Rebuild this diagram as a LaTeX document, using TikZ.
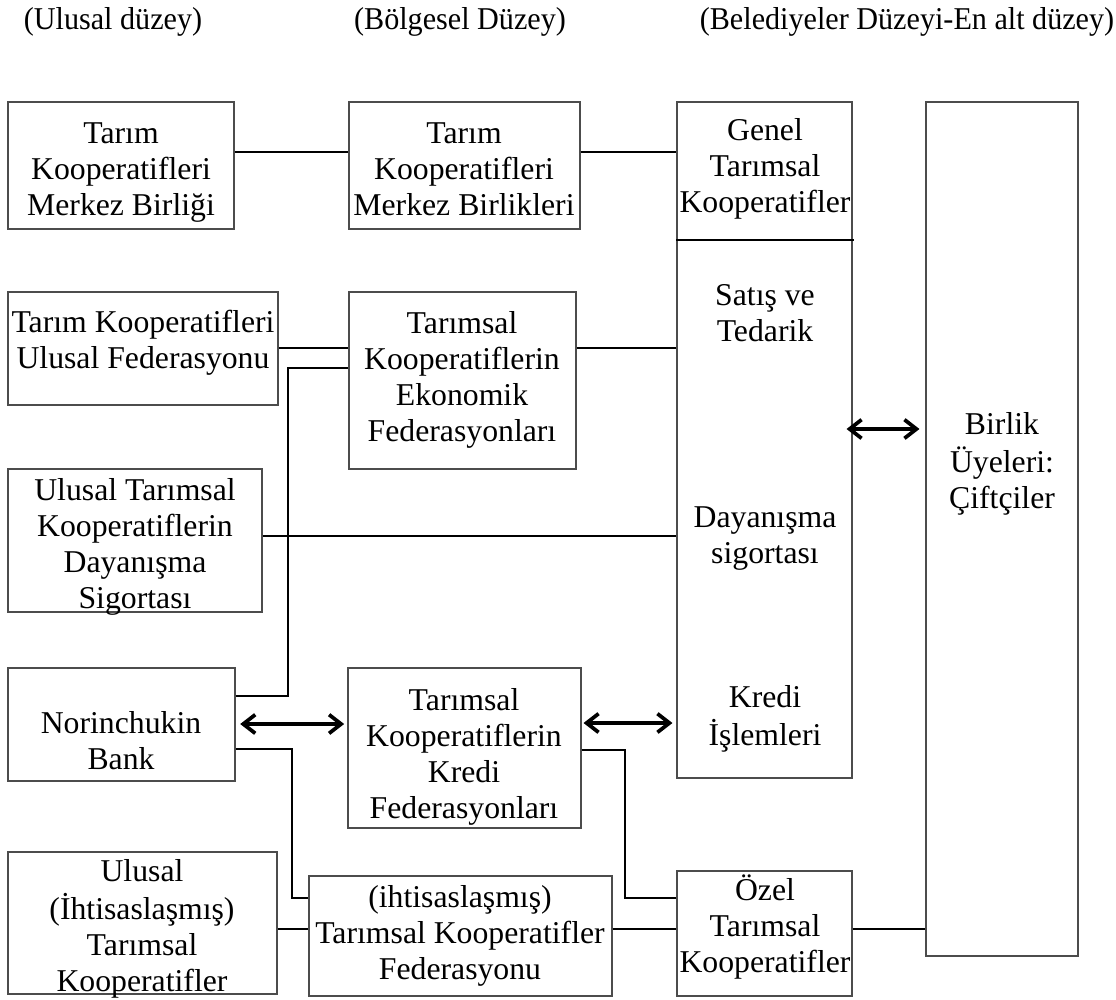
\documentclass[tikz,border=0pt]{standalone}
\usepackage{fontspec}
\setmainfont{Liberation Serif}
\usetikzlibrary{arrows.meta,fit}

\begin{document}
\begin{tikzpicture}[x=0.75pt,y=-0.75pt,
  box/.style={draw=black!70, line width=0.8pt, inner sep=0pt},
  txt/.style={align=center, inner sep=0pt, font=\fontsize{23.8}{27}\selectfont},
  head/.style={txt, xscale=0.95},
  conn/.style={line width=1.5pt},
  tipb/.tip={Straight Barb[length=9pt,width=14pt]},
  arr/.style={line width=2.8pt, line join=round, line cap=round, {tipb}-{tipb}}
]
\useasboundingbox (0,0) rectangle (1116,999);

% level headings
\node[head] (h1) at (113,22) {\strut(Ulusal düzey)};
\node[head] (h2) at (460,22) {\strut(Bölgesel Düzey)};
\node[head] (h3) at (907,22) {\strut(Belediyeler Düzeyi-En alt düzey)};

% national level
\node[box, fit={(8,102) (234,229)}] (mb) {};
\node[txt] (mb-t) at (121,172) {\strut Tarım\\Kooperatifleri\\Merkez Birliği\strut};
\node[box, fit={(8,292) (278,405)}] (uf) {};
\node[txt] (uf-t) at (143,343) {\strut Tarım Kooperatifleri\\Ulusal Federasyonu\strut};
\node[box, fit={(8,469) (262,612)}] (ds) {};
\node[txt] (ds-t) at (135,547) {\strut Ulusal Tarımsal\\Kooperatiflerin\\Dayanışma\\Sigortası\strut};
\node[box, fit={(8,668) (235,781)}] (nb) {};
\node[txt] (nb-t) at (121,744) {\strut Norinchukin\\Bank\strut};
\node[box, fit={(8,852) (277,994)}] (ui) {};
\node[txt] (ui-t) at (142,929) {\strut Ulusal\\(İhtisaslaşmış)\\Tarımsal\\Kooperatifler\strut};

% regional level
\node[box, fit={(349,102) (580,229)}] (rb) {};
\node[txt] (rb-t) at (464,172) {\strut Tarım\\Kooperatifleri\\Merkez Birlikleri\strut};
\node[box, fit={(349,292) (576,469)}] (ef) {};
\node[txt] (ef-t) at (462,380) {\strut Tarımsal\\Kooperatiflerin\\Ekonomik\\Federasyonları\strut};
\node[box, fit={(348,668) (581,828)}] (kf) {};
\node[txt] (kf-t) at (464,757) {\strut Tarımsal\\Kooperatiflerin\\Kredi\\Federasyonları\strut};
\node[box, fit={(309,876) (612,996)}] (ik) {};
\node[txt] (ik-t) at (460,936) {\strut(ihtisaslaşmış)\\Tarımsal Kooperatifler\\Federasyonu\strut};

% local level
\node[box, fit={(677,102) (852,778)}] (col) {};
\node[txt] (gen-t) at (765,169) {\strut Genel\\Tarımsal\\Kooperatifler\strut};
\node[txt] (sat-t) at (765,316) {\strut Satış ve\\Tedarik\strut};
\node[txt] (day-t) at (765,538) {\strut Dayanışma\\sigortası\strut};
\node[txt] (kre-t) at (765,719) {\strut Kredi\\İşlemleri\strut};
\node[box, fit={(677,871) (852,996)}] (oz) {};
\node[txt] (oz-t) at (765,929) {\strut Özel\\Tarımsal\\Kooperatifler\strut};

% members
\node[box, fit={(926,102) (1078,956)}] (bir) {};
\node[txt] (bir-t) at (1002,464) {\strut Birlik\\Üyeleri:\\Çiftçiler\strut};

% divider inside the local column
\draw[line width=1pt] (col.west |- 0,240) -- ([xshift=1pt]col.east |- 0,240);

% plain links
\draw[conn] (mb.east |- 0,152) -- (rb.west |- 0,152);
\draw[conn] (rb.east |- 0,152) -- (col.west |- 0,152);
\draw[conn] (uf.east |- 0,348) -- (ef.west |- 0,348);
\draw[conn] (ef.east |- 0,348) -- (col.west |- 0,348);
\draw[conn] (nb.east |- 0,696) -| (288,368) -- (ef.west |- 0,368);
\draw[conn] (ds.east |- 0,536) -- (col.west |- 0,536);
\draw[conn] (nb.east |- 0,749) -| (292,898) -- (ik.west |- 0,898);
\draw[conn] (ui.east |- 0,929) -- (ik.west |- 0,929);
\draw[conn] (kf.east |- 0,750) -| (625,898) -- (oz.west |- 0,898);
\draw[conn] (ik.east |- 0,929) -- (oz.west |- 0,929);
\draw[conn] (oz.east |- 0,929) -- (bir.west |- 0,929);

% two-way flows
\draw[arr, shorten <=3.5pt, shorten >=2.5pt] (nb.east |- 0,724) -- (kf.west |- 0,724);
\draw[arr, shorten <=1.5pt, shorten >=3pt] (kf.east |- 0,723) -- (col.west |- 0,723);
\draw[arr, shorten <=-4.5pt, shorten >=4.5pt] (col.east |- 0,429) -- (bir.west |- 0,429);
\end{tikzpicture}
\end{document}
